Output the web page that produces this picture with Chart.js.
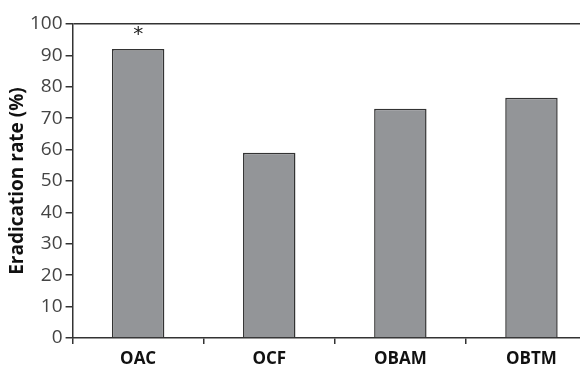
<!DOCTYPE html>
<html lang="en">
<head>
    <meta charset="UTF-8">
    <title>Eradication rate</title>
    <style>
        body { margin: 0; overflow: hidden; background: #fff; }
        .wrap { width: 600px; height: 367px; }
    </style>
</head>
<body>
    <div class="wrap">
        <canvas id="myChart" width="600" height="367"></canvas>
    </div>

    <script src="https://cdn.jsdelivr.net/npm/chart.js"></script>
    <script>
        const groups = ['OAC', 'OCF', 'OBAM', 'OBTM'];
        const rates = [92, 59, 73, 76.5];
        const marks = ['*', '', '', ''];
        const yTicks = [0, 10, 20, 30, 40, 50, 60, 70, 80, 90, 100];

        const ctx = document.getElementById('myChart');
        const ink = '#333';

        // asterisk above significant bars
        const starPlugin = {
            id: 'stars',
            afterDatasetsDraw(chart) {
                const x = chart.scales.x, y = chart.scales.y, c = chart.ctx;
                c.save();
                c.fillStyle = '#222';
                c.font = '20px "DejaVu Sans"';
                c.textAlign = 'center';
                c.textBaseline = 'top';
                marks.forEach((m, i) => {
                    if (!m) return;
                    c.fillText(m, x.getPixelForValue(i), y.getPixelForValue(100) + 1);
                });
                c.restore();
            }
        };

        new Chart(ctx, {
            type: 'bar',
            data: {
                labels: groups,
                datasets: [{
                    data: rates,
                    backgroundColor: '#939598',
                    borderColor: ink,
                    borderWidth: 1.5,
                    borderSkipped: 'bottom',
                    barPercentage: 0.4,
                    categoryPercentage: 1
                }]
            },
            options: {
                responsive: false,
                animation: false,
                layout: { padding: { top: 24, left: 8, right: 3, bottom: -8 } },
                plugins: { legend: { display: false }, tooltip: { enabled: false } },
                scales: {
                    x: {
                        border: { color: ink, width: 1.5 },
                        grid: { drawOnChartArea: false, tickLength: 6, tickColor: ink, lineWidth: 1.5 },
                        ticks: { color: '#111', padding: 7, font: { family: 'Open Sans', size: 17, weight: 'bold', lineHeight: 1 } }
                    },
                    y: {
                        min: 0,
                        max: 100,
                        afterBuildTicks: axis => { axis.ticks = yTicks.map(v => ({ value: v })); },
                        border: { color: ink, width: 1.5 },
                        grid: {
                            tickLength: 7,
                            lineWidth: 1.5,
                            tickColor: ink,
                            color: c => c.tick && c.tick.value === 100 ? ink : 'rgba(0,0,0,0)'
                        },
                        ticks: { color: '#444', padding: 3, font: { family: 'Open Sans', size: 19 } },
                        title: {
                            display: true,
                            text: 'Eradication rate (%)',
                            color: '#111',
                            padding: 0,
                            font: { family: 'Open Sans', size: 19, weight: 'bold', lineHeight: 1 }
                        }
                    }
                }
            },
            plugins: [starPlugin]
        });
    </script>
</body>
</html>
